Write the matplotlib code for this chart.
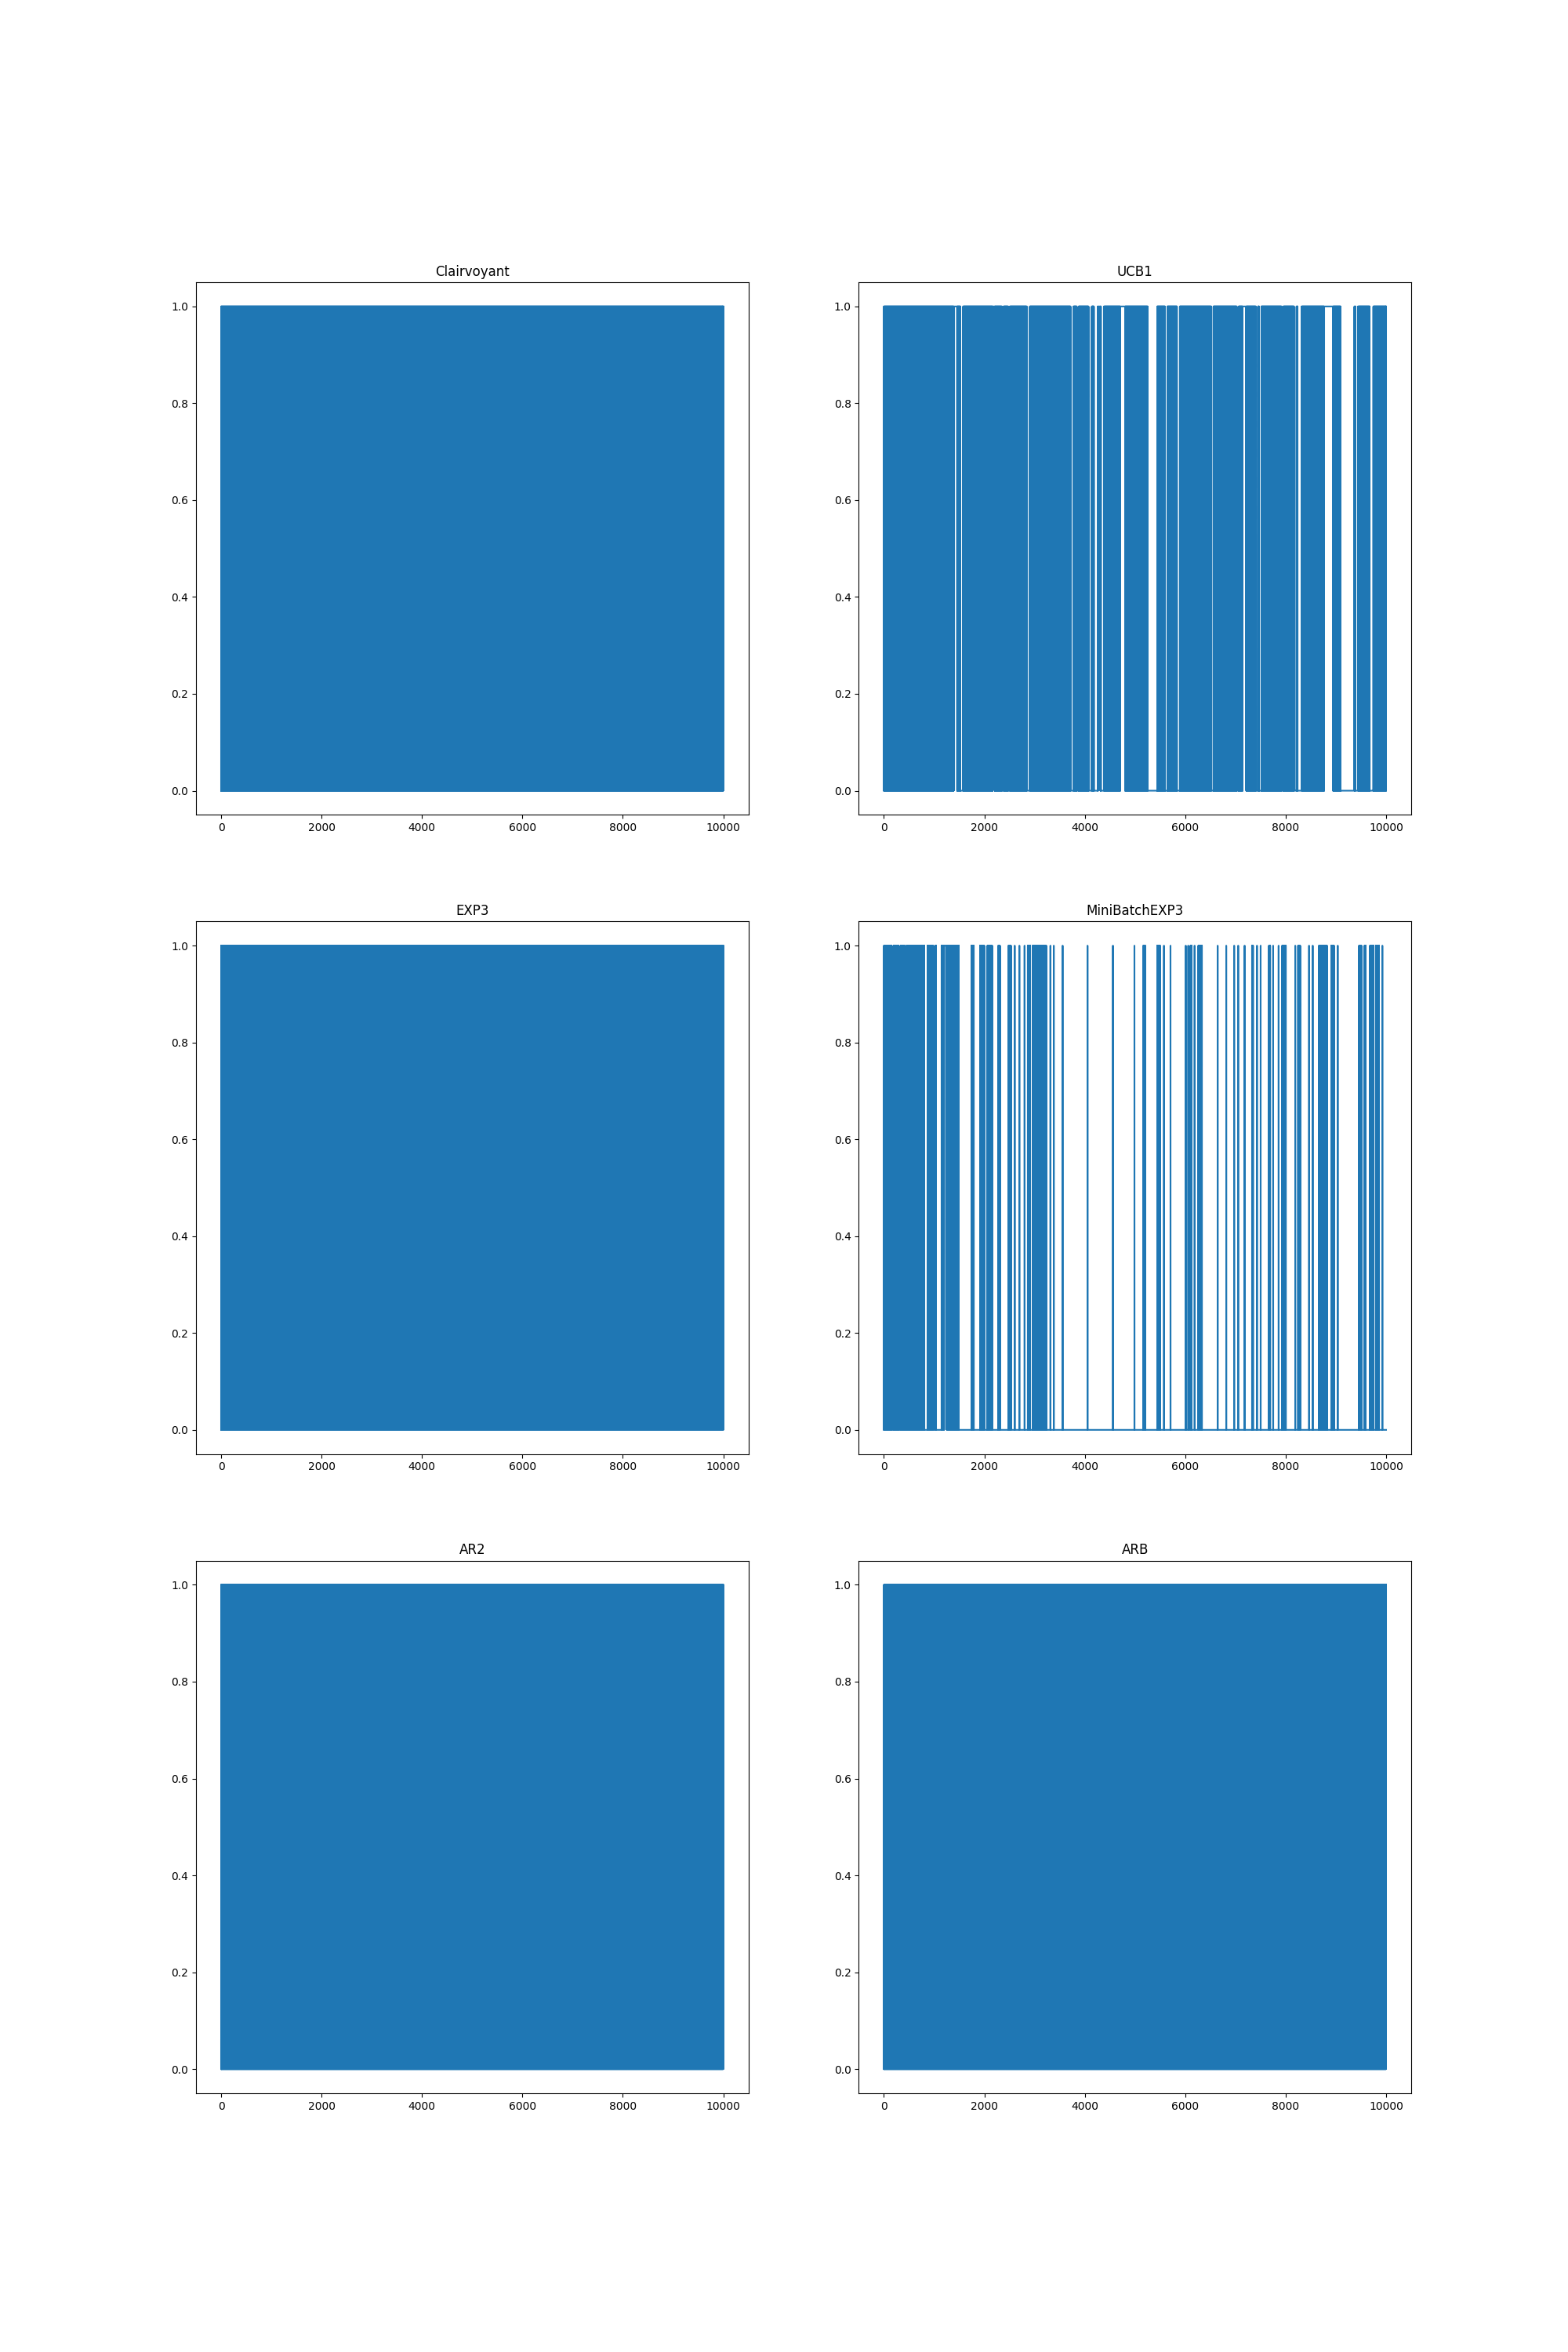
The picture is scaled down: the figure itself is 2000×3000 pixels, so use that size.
import numpy as np
import matplotlib.pyplot as plt

N_STEPS = 10000
DENSE_PATTERN = [0, 1]  # stands in for "switching every step"

titles = ["Clairvoyant", "UCB1", "EXP3", "MiniBatchEXP3", "AR2", "ARB"]

# dense switching over the whole run
full_run = [(0, N_STEPS)]

# UCB1 switches all the time except for these flat stretches (start, end, value)
ucb1_flat = [
    (1390, 1458, 1), (1520, 1578, 0), (2165, 2205, 1), (2346, 2386, 0),
    (2470, 2510, 0), (2842, 2906, 0), (3714, 3777, 0), (3839, 3879, 0),
    (4072, 4140, 0), (4180, 4259, 0), (4264, 4311, 1), (4321, 4384, 0),
    (4705, 4804, 1), (5250, 5442, 0), (5597, 5644, 0), (5835, 5893, 0),
    (6515, 6562, 0), (7024, 7064, 0), (7142, 7216, 1), (7404, 7450, 0),
    (7470, 7516, 0), (7916, 7956, 0), (8164, 8216, 0), (8237, 8320, 0),
    (8766, 8943, 1), (9093, 9370, 0), (9385, 9445, 0), (9673, 9747, 0),
]

# MiniBatchEXP3 sits at 0 with bursts of switching and lone 1s
mb_bursts = [
    (0, 805), (867, 1037), (1147, 1489), (1743, 1789), (1914, 1997),
    (2061, 2153), (2278, 2308), (2481, 2527), (2864, 2910), (2963, 3231),
    (5166, 5203), (5442, 5498), (6106, 6125), (6262, 6333), (7329, 7350),
    (7667, 7692), (7931, 8004), (8247, 8288), (8663, 8822), (8907, 8962),
    (9461, 9507), (9570, 9591), (9679, 9751), (9799, 9860),
]
mb_flat = [(151, 191, 0), (291, 331, 0), (411, 451, 0), (982, 1022, 0), (1198, 1251, 1)]
mb_spikes = [
    2604, 2697, 2800, 3315, 3382, 3558, 4054, 4560, 4988, 5576, 5706,
    6010, 6060, 6186, 6645, 6816, 6974, 7054, 7182, 7428, 7501, 7750,
    7859, 8190, 8465, 8538, 9036, 9925,
]


def build(bursts, flat=(), spikes=()):
    series = np.zeros(N_STEPS)
    for a, b in bursts:
        series[a:b] = np.resize(DENSE_PATTERN, b - a)
    for a, b, v in flat:
        series[a:b] = v
    for t in spikes:
        series[t] = 1
    return series


series = [
    build(full_run),
    build(full_run, ucb1_flat),
    build(full_run),
    build(mb_bursts, mb_flat, mb_spikes),
    build(full_run),
    build(full_run),
]

steps = np.arange(N_STEPS)
fig, axes = plt.subplots(3, 2, figsize=(20, 30))
for ax, title, y in zip(axes.flat, titles, series):
    ax.plot(steps, y)
    ax.set_title(title)

fig.savefig("out.png", dpi=100)
